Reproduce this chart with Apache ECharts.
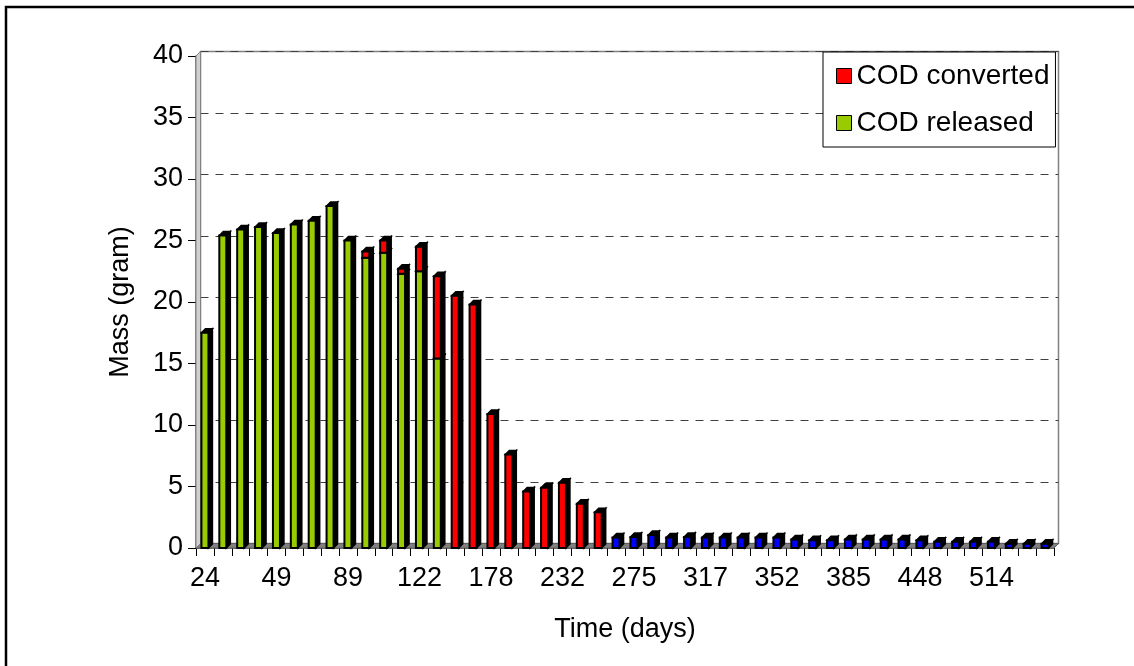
<!DOCTYPE html>
<html>
<head>
<meta charset="utf-8">
<script src="https://cdn.jsdelivr.net/npm/echarts@6/dist/echarts.min.js"></script>
<style>
html,body{margin:0;padding:0;background:#fff;}
#c{width:1134px;height:666px;}
</style>
</head>
<body>
<div id="c"></div>
<script>
// ---- data ----
const tickLabels = ['24','','','','49','','','','89','','','','122','','','','178','','','','232','','','',
                    '275','','','','317','','','','352','','','','385','','','','448','','','','514','','',''];
const released = [17.5,25.4,25.9,26.1,25.6,26.3,26.6,27.8,25.0,23.6,24.0,22.3,22.5,15.4,
                  null,null,null,null,null,null,null,null,null,
                  null,null,null,null,null,null,null,null,null,null,null,null,null,null,null,null,null,null,null,null,null,null,null,null];
const converted = [null,null,null,null,null,null,null,null,null,0.5,1.0,0.4,2.0,6.7,
                   20.5,19.8,10.9,7.6,4.6,4.9,5.3,3.6,2.9,
                   null,null,null,null,null,null,null,null,null,null,null,null,null,null,null,null,null,null,null,null,null,null,null,null];
const remaining = [null,null,null,null,null,null,null,null,null,null,null,null,null,null,
                   null,null,null,null,null,null,null,null,null,
                   0.85,0.9,1.05,0.85,0.9,0.85,0.85,0.85,0.85,0.85,0.7,0.62,0.62,0.7,0.7,0.7,0.7,0.62,0.5,0.5,0.5,0.5,0.35,0.35,0.35];
const yTicks = {min:0, max:40, interval:5};

// ---- layout ----
const W = 1134, H = 666;
const F = {left:196, top:56, right:80, bottom:118};
const D = 4.5;
const B = {left:F.left + D, top:F.top - D, right:F.right - D, bottom:F.bottom + D};
const FS = 27;
const font = 'Liberation Sans, Arial, sans-serif';
const BAR_W = 7, DEPTH = 4;

// stacked segments [index, base, top]
function segments(layer, below) {
  return layer.map((v, i) => {
    if (v == null) return [i, null, null];
    let base = 0;
    below.forEach(arr => { if (arr[i] != null) base += arr[i]; });
    return [i, base, base + v];
  });
}

function renderBar(params, api) {
  const i = api.value(0);
  const b = api.value(1), t = api.value(2);
  if (b == null || t == null || isNaN(b) || isNaN(t)) return null;
  const pb = api.coord([i, b]);
  const pt = api.coord([i, t]);
  const x0 = pb[0] - BAR_W / 2, x1 = x0 + BAR_W;
  const yb = pb[1], yt = pt[1];
  const d = DEPTH;
  const color = api.visual('color');
  return {
    type: 'group',
    children: [
      {type:'polygon', shape:{points:[[x1, yt],[x1 + d, yt - d],[x1 + d, yb - d],[x1, yb]]},
       style:{fill:'#000', stroke:'#000', lineWidth:1.5}},
      {type:'polygon', shape:{points:[[x0, yt],[x0 + d, yt - d],[x1 + d, yt - d],[x1, yt]]},
       style:{fill:'#000', stroke:'#000', lineWidth:1.5}},
      {type:'rect', shape:{x:x0, y:yt, width:BAR_W, height:yb - yt},
       style:{fill:color, stroke:'#000', lineWidth:2}}
    ]
  };
}

const chart = echarts.init(document.getElementById('c'), null, {renderer:'canvas'});
chart.setOption({
  backgroundColor: '#fff',
  animation: false,
  textStyle: {fontFamily: font},
  grid: [
    {left:F.left, top:F.top, right:F.right, bottom:F.bottom, containLabel:false},
    {left:B.left, top:B.top, right:B.right, bottom:B.bottom, containLabel:false,
     show:true, borderColor:'#808080', borderWidth:1.5, backgroundColor:'transparent'}
  ],
  legend: {
    data: ['COD converted','COD released'],
    orient: 'vertical',
    left: 823, top: 52,
    padding: [10, 6, 10, 13],
    itemGap: 19,
    itemWidth: 15, itemHeight: 15,
    icon: 'rect',
    backgroundColor: '#fff',
    borderColor: '#000', borderWidth: 1,
    itemStyle: {borderColor:'#000', borderWidth:1},
    textStyle: {fontSize: 28, color:'#000', fontFamily: font}
  },
  xAxis: [
    {type:'category', gridIndex:0, data: tickLabels, boundaryGap:true,
     name:'Time (days)', nameLocation:'middle', nameGap:68,
     nameTextStyle:{fontSize:FS, color:'#000', fontFamily:font},
     axisLine:{show:true, lineStyle:{color:'#404040', width:1.5}},
     axisTick:{show:true, interval:0, length:8, lineStyle:{color:'#000', width:1}},
     axisLabel:{interval:3, fontSize:FS, color:'#000', margin:17, fontFamily:font},
     splitLine:{show:false}},
    {type:'category', gridIndex:1, data: tickLabels, boundaryGap:true, show:false}
  ],
  yAxis: [
    {type:'value', gridIndex:0, min:yTicks.min, max:yTicks.max, interval:yTicks.interval,
     name:'Mass (gram)', nameLocation:'middle', nameGap:62, nameRotate:90,
     nameTextStyle:{fontSize:FS, color:'#000', fontFamily:font},
     axisLine:{show:true, lineStyle:{color:'#606060', width:1.5}},
     axisTick:{show:true, length:8, lineStyle:{color:'#000', width:1}},
     axisLabel:{fontSize:FS, color:'#000', margin:13, fontFamily:font},
     splitLine:{show:false}},
    {type:'value', gridIndex:1, min:yTicks.min, max:yTicks.max, interval:yTicks.interval,
     axisLine:{show:false}, axisTick:{show:false}, axisLabel:{show:false},
     splitLine:{show:true, lineStyle:{color:'#404040', width:1, type:[8,7]}}}
  ],
  graphic: [
    {type:'rect', z:100, silent:true,
     shape:{x:6, y:7, width:W+20, height:H+20},
     style:{fill:'none', stroke:'#000', lineWidth:2.5}},
    {type:'polygon', z:1, silent:true,
     shape:{points:[[F.left, H-F.bottom],[B.left, H-B.bottom],[W-B.right, H-B.bottom],[W-F.right, H-F.bottom]]},
     style:{fill:'#808080', stroke:'#606060', lineWidth:1}},
    {type:'polygon', z:1, silent:true,
     shape:{points:[[F.left, F.top],[B.left, B.top],[B.left, H-B.bottom],[F.left, H-F.bottom]]},
     style:{fill:'#d0d0d0', stroke:'#808080', lineWidth:1}}
  ],
  series: [
    {name:'COD released', type:'custom', xAxisIndex:0, yAxisIndex:0, z:3,
     itemStyle:{color:'#99CC00'}, renderItem: renderBar,
     encode:{x:0, y:[1,2]}, data: segments(released, [])},
    {name:'COD converted', type:'custom', xAxisIndex:0, yAxisIndex:0, z:3,
     itemStyle:{color:'#FF0000'}, renderItem: renderBar,
     encode:{x:0, y:[1,2]}, data: segments(converted, [released])},
    {name:'remaining', type:'custom', xAxisIndex:0, yAxisIndex:0, z:3,
     itemStyle:{color:'#0000FF'}, renderItem: renderBar,
     encode:{x:0, y:[1,2]}, data: segments(remaining, [released, converted])}
  ]
});
</script>
</body>
</html>
